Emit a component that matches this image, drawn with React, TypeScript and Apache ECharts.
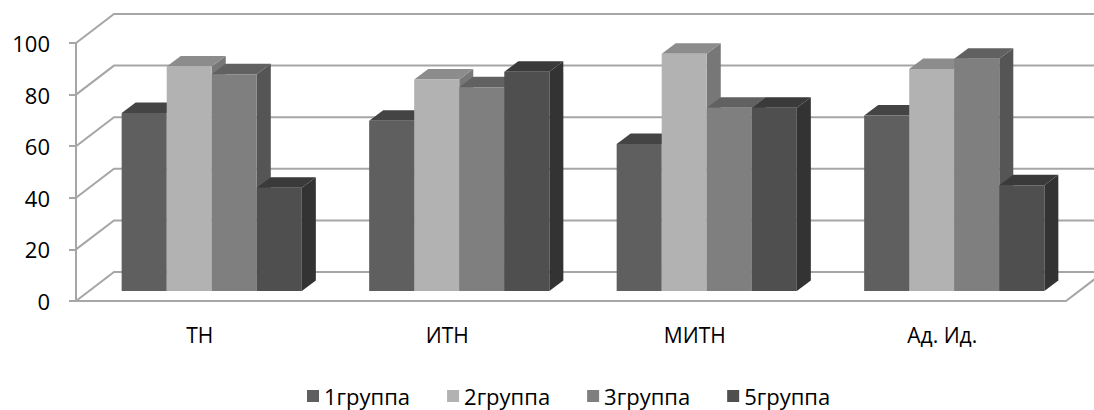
import React, { useEffect, useRef } from "react";
import * as echarts from "echarts";

// ---- data ----
const categories = ["ТН", "ИТН", "МИТН", "Ад. Ид."];
const seriesNames = ["1группа", "2группа", "3группа", "5группа"];
const group1 = [69, 66, 57, 68];
const group2 = [87, 82, 92, 86];
const group3 = [84, 79, 71, 90];
const group5 = [40, 85, 71, 41];
const yTicks = [0, 20, 40, 60, 80, 100];

// ---- styles / layout ----
const FONT = "Open Sans";
const GRID_COLOR = "#a6a6a6";
const FACES = [
  { front: "#5f5f5f", top: "#444444", side: "#404040" },
  { front: "#b2b2b2", top: "#8c8c8c", side: "#777777" },
  { front: "#7f7f7f", top: "#616161", side: "#555555" },
  { front: "#4f4f4f", top: "#3a3a3a", side: "#333333" },
];
const WALL_DX = 38;
const WALL_DY = -29;
const BAR_FRONT_DX = 12;
const BAR_FRONT_DY = -10;
const BAR_DEPTH_DX = 14;
const BAR_DEPTH_DY = -10.5;
const BAR_FRACTION = 0.182;

export default function App() {
  const ref = useRef<HTMLDivElement>(null);

  useEffect(() => {
    document.body.style.margin = "0";
    if (!ref.current) return;
    const chart = echarts.init(ref.current, null, { renderer: "svg" });
    const groups = [group1, group2, group3, group5];

    const wallSeries: any = {
      type: "custom",
      name: "walls",
      silent: true,
      clip: false,
      z: 1,
      data: yTicks.map((v) => [0, v]),
      encode: { x: 0, y: 1 },
      renderItem: (params: any, api: any) => {
        const v = api.value(1);
        const cs = params.coordSys;
        const y = api.coord([0, v])[1];
        const xl = cs.x;
        const xr = cs.x + cs.width;
        const style = { stroke: GRID_COLOR, lineWidth: 2, fill: "none" };
        const children: any[] = [
          {
            type: "polyline",
            shape: {
              points: [
                [xl, y],
                [xl + WALL_DX, y + WALL_DY],
                [xr + WALL_DX, y + WALL_DY],
              ],
            },
            style,
          },
        ];
        if (v === 0) {
          children.push({
            type: "polyline",
            shape: {
              points: [
                [xl, y],
                [xr, y],
                [xr + WALL_DX, y + WALL_DY],
              ],
            },
            style,
          });
        }
        return { type: "group", children };
      },
    };

    const barSeries = groups.map((vals, g) => ({
      type: "custom",
      name: seriesNames[g],
      clip: false,
      z: 2 + g,
      itemStyle: { color: FACES[g].front },
      data: vals.map((v, i) => [i, v]),
      encode: { x: 0, y: 1 },
      renderItem: (params: any, api: any) => {
        const i = api.value(0);
        const v = api.value(1);
        const base = api.coord([i, 0]);
        const topPt = api.coord([i, v]);
        const band = api.size([1, 0])[0];
        const bw = band * BAR_FRACTION;
        const x0 = base[0] - 2 * bw + BAR_FRONT_DX + g * bw;
        const x1 = x0 + bw;
        const yb = base[1] + BAR_FRONT_DY;
        const yt = topPt[1] + BAR_FRONT_DY;
        const dx = BAR_DEPTH_DX;
        const dy = BAR_DEPTH_DY;
        const f = FACES[g];
        return {
          type: "group",
          children: [
            {
              type: "polygon",
              shape: { points: [[x1, yt], [x1 + dx, yt + dy], [x1 + dx, yb + dy], [x1, yb]] },
              style: { fill: f.side },
            },
            {
              type: "polygon",
              shape: { points: [[x0, yt], [x1, yt], [x1 + dx, yt + dy], [x0 + dx, yt + dy]] },
              style: { fill: f.top },
            },
            {
              type: "polygon",
              shape: { points: [[x0, yt], [x1, yt], [x1, yb], [x0, yb]] },
              style: { fill: f.front },
            },
          ],
        };
      },
    }));

    chart.setOption({
      animation: false,
      backgroundColor: "#ffffff",
      grid: { left: 76, right: 28, top: 43, bottom: 109, containLabel: false },
      legend: {
        data: seriesNames.map((n, g) => ({ name: n, itemStyle: { color: FACES[g].front } })),
        left: 307,
        top: 385,
        padding: 0,
        icon: "rect",
        itemWidth: 12,
        itemHeight: 12,
        itemGap: 37,
        textStyle: { fontFamily: FONT, fontSize: 22, color: "#000000", lineHeight: 22 },
      },
      xAxis: {
        type: "category",
        data: categories,
        axisLine: { show: false },
        axisTick: { show: false },
        splitLine: { show: false },
        axisLabel: { fontFamily: FONT, fontSize: 21, color: "#000000", margin: 23 },
      },
      yAxis: {
        type: "value",
        min: 0,
        max: 100,
        interval: 20,
        axisLine: { show: true, lineStyle: { color: GRID_COLOR, width: 2 } },
        axisTick: { show: true, length: 7, lineStyle: { color: GRID_COLOR, width: 2 } },
        splitLine: { show: false },
        axisLabel: { fontFamily: FONT, fontSize: 22, color: "#000000", margin: 26 },
      },
      series: [wallSeries, ...barSeries],
    });

    return () => chart.dispose();
  }, []);

  return <div ref={ref} style={{ width: 1094, height: 410 }} />;
}
